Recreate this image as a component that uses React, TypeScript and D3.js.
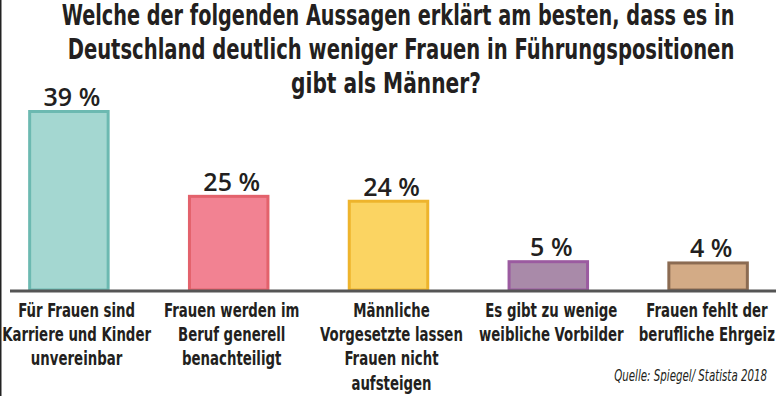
import React, { useLayoutEffect, useRef, useState } from "react";
import * as d3 from "d3";

const WIDTH = 776;
const HEIGHT = 396;
const BASELINE = 290;

const titleLines = [
  "Welche der folgenden Aussagen erklärt  am besten, dass es in",
  "Deutschland deutlich weniger Frauen in Führungspositionen",
  "gibt als Männer?",
];
// measured widths / centres of the title lines in the reference
const titleWidths = [673, 667, 190];
const titleCenters = [398, 401, 386];

const categories = [
  ["Für Frauen sind", "Karriere und Kinder", "unvereinbar"],
  ["Frauen werden im", "Beruf generell", "benachteiligt"],
  ["Männliche", "Vorgesetzte lassen", "Frauen nicht", "aufsteigen"],
  ["Es gibt zu wenige", "weibliche Vorbilder"],
  ["Frauen fehlt der", "berufliche Ehrgeiz"],
];
const values = [39, 25, 24, 5, 4];
const fills = ["#a4d7d1", "#f28292", "#fbd462", "#a98aa9", "#d3ab86"];
const strokes = ["#6cb9b1", "#e3626c", "#eeb42c", "#9b5ba0", "#8b6b52"];

const source = "Quelle: Spiegel/ Statista 2018";

const FONT = "'DejaVu Sans', sans-serif";
const LABEL_REF_WIDTH = 117; // width of "Für Frauen sind" in the reference
const SOURCE_REF_WIDTH = 153;

export default function App() {
  const labelRef = useRef<SVGTSpanElement>(null);
  const sourceRef = useRef<SVGTextElement>(null);
  const titleRefs = useRef<(SVGTextElement | null)[]>([]);
  const catRefs = useRef<(SVGTextElement | null)[]>([]);
  const [sx, setSx] = useState(1);
  const [ssx, setSsx] = useState(1);
  const [tsx, setTsx] = useState<number[]>(titleLines.map(() => 1));
  const [catW, setCatW] = useState<number[]>(categories.map(() => 0));

  useLayoutEffect(() => {
    if (labelRef.current) {
      const w = labelRef.current.getComputedTextLength();
      if (w > 0) setSx(LABEL_REF_WIDTH / w);
    }
    if (sourceRef.current) {
      const w = sourceRef.current.getComputedTextLength();
      if (w > 0) setSsx(SOURCE_REF_WIDTH / w);
    }
    setTsx(
      titleLines.map((_, i) => {
        const el = titleRefs.current[i];
        const w = el ? el.getComputedTextLength() : 0;
        return w > 0 ? titleWidths[i] / w : 1;
      })
    );
    setCatW(categories.map((_, i) => (catRefs.current[i] ? catRefs.current[i]!.getBBox().width : 0)));
  }, []);

  const keys = categories.map((_, i) => String(i));

  const x = d3
    .scaleBand<string>()
    .domain(keys)
    .range([-11, 788])
    .paddingInner(0.49)
    .paddingOuter(0.245);

  // the printed bars are not proportional; a power scale with an offset follows them
  const y = d3.scalePow().exponent(1.8).domain([0, 39]).range([BASELINE - 26, BASELINE - 180]);

  return (
    <div style={{ position: "fixed", left: 0, top: 0 }}>
      <svg width={WIDTH} height={HEIGHT} style={{ display: "block", background: "#fff" }}>
        <rect x={0} y={0} width={WIDTH} height={HEIGHT} fill="#fff" />
        <line x1={0.75} x2={0.75} y1={0} y2={HEIGHT} stroke="#222" strokeWidth={1.5} />

        {titleLines.map((t, i) => (
          <g key={i} transform={`translate(${titleCenters[i]},${25 + i * 34}) scale(${tsx[i]},1)`}>
            <text
              ref={(el) => {
                titleRefs.current[i] = el;
              }}
              x={0}
              y={0}
              textAnchor="middle"
              fontFamily={FONT}
              fontStretch="condensed"
              fontWeight="bold"
              fontSize={28}
              fill="#231f20"
            >
              {t}
            </text>
          </g>
        ))}

        {values.map((v, i) => {
          const bx = x(keys[i])!;
          const bw = x.bandwidth();
          const top = y(v);
          return (
            <g key={i}>
              <rect
                x={bx + 1.5}
                y={top + 1.5}
                width={bw - 3}
                height={BASELINE - top - 1.5}
                fill={fills[i]}
                stroke={strokes[i]}
                strokeWidth={3}
              />
              <text
                x={bx + bw / 2 + 3}
                y={top - 4}
                textAnchor="middle"
                fontFamily="'Open Sans', sans-serif"
                fontWeight={600}
                fontSize={25}
                fill="#231f20"
              >
                {v} %
              </text>
            </g>
          );
        })}

        <line x1={10} x2={WIDTH} y1={BASELINE + 1} y2={BASELINE + 1} stroke="#555" strokeWidth={3} />

        {categories.map((lines, i) => {
          const half = (catW[i] * sx) / 2;
          const c0 = x(keys[i])! + x.bandwidth() / 2 + 3;
          const cx = half > 0 ? Math.max(half + 2, Math.min(WIDTH - half - 1, c0)) : c0;
          return (
            <g key={i} transform={`translate(${cx},${BASELINE + 26.5}) scale(${sx},1)`}>
              <text
                ref={(el) => {
                  catRefs.current[i] = el;
                }}
                x={0}
                y={0}
                textAnchor="middle"
                fontFamily={FONT}
                fontStretch="condensed"
                fontWeight="bold"
                fontSize={20}
                fill="#231f20"
              >
                {lines.map((l, j) => (
                  <tspan key={j} ref={i === 0 && j === 0 ? labelRef : undefined} x={0} dy={j === 0 ? 0 : 24.5}>
                    {l}
                  </tspan>
                ))}
              </text>
            </g>
          );
        })}

        <g transform={`translate(767,381) scale(${ssx},1)`}>
          <text
            ref={sourceRef}
            x={0}
            y={0}
            textAnchor="end"
            fontFamily={FONT}
            fontStretch="condensed"
            fontStyle="italic"
            fontSize={16}
            fill="#231f20"
          >
            {source}
          </text>
        </g>
      </svg>
    </div>
  );
}
